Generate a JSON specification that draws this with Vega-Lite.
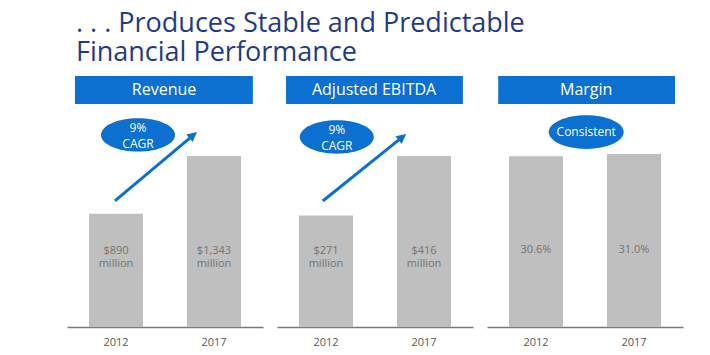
{
  "$schema": "https://vega.github.io/schema/vega-lite/v6.json",
  "padding": {"left": 67, "top": 10, "right": 10, "bottom": 5},
  "background": "white",
  "title": {
    "text": ["\u00a0. . . Produces Stable and Predictable", "Financial Performance"],
    "anchor": "start",
    "font": "Open Sans",
    "fontSize": 27,
    "fontWeight": "normal",
    "color": "#1f3b87",
    "lineHeight": 29,
    "offset": 9,
    "dx": 9
  },
  "config": {
    "view": {"stroke": null},
    "axis": {"grid": false},
    "axisX": {
      "domainColor": "#7a7a7a",
      "domainWidth": 1.5,
      "ticks": false,
      "labelColor": "#595959",
      "labelFontSize": 11,
      "labelFont": "Open Sans",
      "labelPadding": 9,
      "labelAngle": 0,
      "title": null
    },
    "text": {"font": "Open Sans"}
  },
  "datasets": {
    "rev": [
      {"year": "2012", "value": 890, "label": "$890\nmillion"},
      {"year": "2017", "value": 1343, "label": "$1,343\nmillion"}
    ],
    "ebitda": [
      {"year": "2012", "value": 271, "label": "$271\nmillion"},
      {"year": "2017", "value": 416, "label": "$416\nmillion"}
    ],
    "margin": [
      {"year": "2012", "value": 30.6, "label": "30.6%"},
      {"year": "2017", "value": 31.0, "label": "31.0%"}
    ]
  },
  "spacing": 14,
  "hconcat": [
    {
      "width": 196,
      "height": 251,
      "layer": [
        {
          "data": {"name": "rev"},
          "mark": {"type": "bar", "color": "#bfbfbf"},
          "encoding": {
            "x": {"field": "year", "type": "ordinal", "scale": {"domain": ["2012", "2017"], "paddingInner": 0.449, "paddingOuter": 0.2245}},
            "y": {"field": "value", "type": "quantitative", "scale": {"domain": [0, 1971], "nice": false}, "axis": null}
          }
        },
        {
          "data": {"name": "rev"},
          "mark": {"type": "text", "color": "#747474", "fontSize": 11, "lineBreak": "\n", "lineHeight": 13, "baseline": "middle"},
          "encoding": {
            "x": {"field": "year", "type": "ordinal"},
            "y": {"datum": 593, "type": "quantitative"},
            "text": {"field": "label"}
          }
        },
        {
          "data": {"values": [{"h": "Revenue"}]},
          "layer": [
            {
              "mark": {"type": "rect", "color": "#0b70d0"},
              "encoding": {
                "x": {"datum": "2012", "type": "ordinal", "bandPosition": -0.26},
                "x2": {"datum": "2017", "bandPosition": 1.22},
                "y": {"datum": 1971, "type": "quantitative"},
                "y2": {"datum": 1751}
              }
            },
            {
              "mark": {"type": "text", "color": "white", "fontSize": 16, "baseline": "middle"},
              "encoding": {
                "x": {"datum": "2012", "type": "ordinal", "bandPosition": 1.39},
                "y": {"datum": 1861, "type": "quantitative"},
                "text": {"field": "h"}
              }
            }
          ]
        },
        {
          "data": {"values": [{"t": "9%\nCAGR"}]},
          "layer": [
            {
              "mark": {"type": "point", "shape": "M-1,0A1,0.45 0 1,1 1,0A1,0.45 0 1,1 -1,0Z", "filled": true, "opacity": 1, "color": "#0b70d0", "size": 5476},
              "encoding": {
                "x": {"datum": "2012", "type": "ordinal", "bandPosition": 0.907},
                "y": {"datum": 1508, "type": "quantitative"}
              }
            },
            {
              "mark": {"type": "text", "color": "white", "fontSize": 12, "lineBreak": "\n", "lineHeight": 16, "baseline": "middle"},
              "encoding": {
                "x": {"datum": "2012", "type": "ordinal", "bandPosition": 0.907},
                "y": {"datum": 1563, "type": "quantitative"},
                "text": {"field": "t"}
              }
            },
            {
              "mark": {"type": "rule", "color": "#0b70d0", "strokeWidth": 3},
              "encoding": {
                "x": {"datum": "2012", "type": "ordinal", "bandPosition": 0.48},
                "y": {"datum": 990, "type": "quantitative"},
                "x2": {"datum": "2017", "bandPosition": 0.1},
                "y2": {"datum": 1501}
              }
            },
            {
              "mark": {"type": "point", "shape": "M0,0L-0.7,1.4L0.7,1.4Z", "filled": true, "opacity": 1, "color": "#0b70d0", "size": 196, "angle": 50},
              "encoding": {
                "x": {"datum": "2017", "type": "ordinal", "bandPosition": 0.185},
                "y": {"datum": 1531, "type": "quantitative"}
              }
            }
          ]
        }
      ]
    },
    {
      "width": 196,
      "height": 251,
      "layer": [
        {
          "data": {"name": "ebitda"},
          "mark": {"type": "bar", "color": "#bfbfbf"},
          "encoding": {
            "x": {"field": "year", "type": "ordinal", "scale": {"domain": ["2012", "2017"], "paddingInner": 0.449, "paddingOuter": 0.2245}},
            "y": {"field": "value", "type": "quantitative", "scale": {"domain": [0, 610.6], "nice": false}, "axis": null}
          }
        },
        {
          "data": {"name": "ebitda"},
          "mark": {"type": "text", "color": "#747474", "fontSize": 11, "lineBreak": "\n", "lineHeight": 13, "baseline": "middle"},
          "encoding": {
            "x": {"field": "year", "type": "ordinal"},
            "y": {"datum": 185, "type": "quantitative"},
            "text": {"field": "label"}
          }
        },
        {
          "data": {"values": [{"h": "Adjusted EBITDA"}]},
          "layer": [
            {
              "mark": {"type": "rect", "color": "#0b70d0"},
              "encoding": {
                "x": {"datum": "2012", "type": "ordinal", "bandPosition": -0.24},
                "x2": {"datum": "2017", "bandPosition": 1.22},
                "y": {"datum": 610.6, "type": "quantitative"},
                "y2": {"datum": 542.5}
              }
            },
            {
              "mark": {"type": "text", "color": "white", "fontSize": 16, "baseline": "middle"},
              "encoding": {
                "x": {"datum": "2012", "type": "ordinal", "bandPosition": 1.39},
                "y": {"datum": 576.6, "type": "quantitative"},
                "text": {"field": "h"}
              }
            }
          ]
        },
        {
          "data": {"values": [{"t": "9%\nCAGR"}]},
          "layer": [
            {
              "mark": {"type": "point", "shape": "M-1,0A1,0.45 0 1,1 1,0A1,0.45 0 1,1 -1,0Z", "filled": true, "opacity": 1, "color": "#0b70d0", "size": 5476},
              "encoding": {
                "x": {"datum": "2012", "type": "ordinal", "bandPosition": 0.7},
                "y": {"datum": 462.2, "type": "quantitative"}
              }
            },
            {
              "mark": {"type": "text", "color": "white", "fontSize": 12, "lineBreak": "\n", "lineHeight": 16, "baseline": "middle"},
              "encoding": {
                "x": {"datum": "2012", "type": "ordinal", "bandPosition": 0.7},
                "y": {"datum": 479.2, "type": "quantitative"},
                "text": {"field": "t"}
              }
            },
            {
              "mark": {"type": "rule", "color": "#0b70d0", "strokeWidth": 3},
              "encoding": {
                "x": {"datum": "2012", "type": "ordinal", "bandPosition": 0.44},
                "y": {"datum": 306.5, "type": "quantitative"},
                "x2": {"datum": "2017", "bandPosition": 0.08},
                "y2": {"datum": 460.0}
              }
            },
            {
              "mark": {"type": "point", "shape": "M0,0L-0.7,1.4L0.7,1.4Z", "filled": true, "opacity": 1, "color": "#0b70d0", "size": 196, "angle": 51},
              "encoding": {
                "x": {"datum": "2017", "type": "ordinal", "bandPosition": 0.17},
                "y": {"datum": 469.5, "type": "quantitative"}
              }
            }
          ]
        }
      ]
    },
    {
      "width": 196,
      "height": 251,
      "layer": [
        {
          "data": {"name": "margin"},
          "mark": {"type": "bar", "color": "#bfbfbf"},
          "encoding": {
            "x": {"field": "year", "type": "ordinal", "scale": {"domain": ["2012", "2017"], "paddingInner": 0.449, "paddingOuter": 0.2245}},
            "y": {"field": "value", "type": "quantitative", "scale": {"domain": [0, 45], "nice": false}, "axis": null}
          }
        },
        {
          "data": {"name": "margin"},
          "mark": {"type": "text", "color": "#747474", "fontSize": 11, "baseline": "middle"},
          "encoding": {
            "x": {"field": "year", "type": "ordinal"},
            "y": {"datum": 13.8, "type": "quantitative"},
            "text": {"field": "label"}
          }
        },
        {
          "data": {"values": [{"h": "Margin", "t": "Consistent"}]},
          "layer": [
            {
              "mark": {"type": "rect", "color": "#0b70d0"},
              "encoding": {
                "x": {"datum": "2012", "type": "ordinal", "bandPosition": -0.2},
                "x2": {"datum": "2017", "bandPosition": 1.26},
                "y": {"datum": 45, "type": "quantitative"},
                "y2": {"datum": 39.96}
              }
            },
            {
              "mark": {"type": "text", "color": "white", "fontSize": 16, "baseline": "middle"},
              "encoding": {
                "x": {"datum": "2012", "type": "ordinal", "bandPosition": 1.43},
                "y": {"datum": 42.47, "type": "quantitative"},
                "text": {"field": "h"}
              }
            },
            {
              "mark": {"type": "point", "shape": "M-1,0A1,0.45 0 1,1 1,0A1,0.45 0 1,1 -1,0Z", "filled": true, "opacity": 1, "color": "#0b70d0", "size": 5625},
              "encoding": {
                "x": {"datum": "2012", "type": "ordinal", "bandPosition": 1.43},
                "y": {"datum": 34.94, "type": "quantitative"}
              }
            },
            {
              "mark": {"type": "text", "color": "white", "fontSize": 12, "baseline": "middle"},
              "encoding": {
                "x": {"datum": "2012", "type": "ordinal", "bandPosition": 1.43},
                "y": {"datum": 34.94, "type": "quantitative"},
                "text": {"field": "t"}
              }
            }
          ]
        }
      ]
    }
  ]
}
